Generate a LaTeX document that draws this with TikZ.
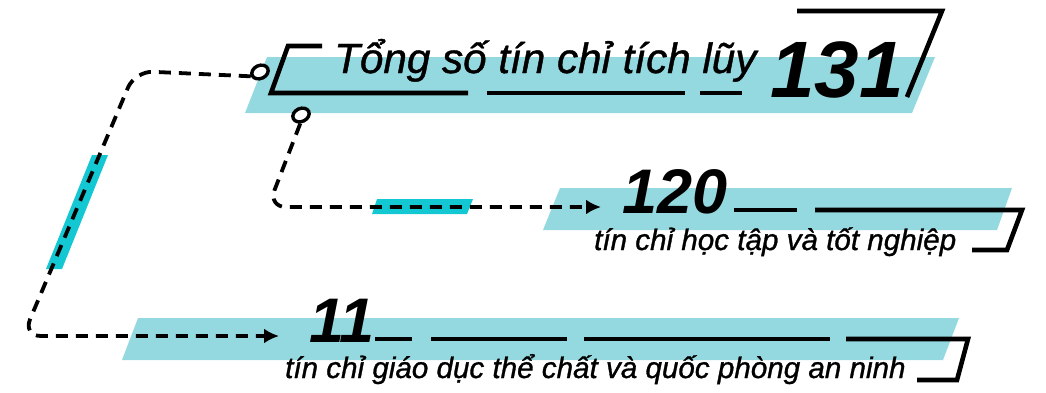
\documentclass[tikz,border=0pt]{standalone}
\usepackage{fontspec}
\setmainfont{Liberation Sans}
\newfontfamily\medfont[FakeBold=1]{Liberation Sans}
\usepackage{tikz}
\usetikzlibrary{arrows.meta,shapes.geometric}
\definecolor{bandteal}{HTML}{95D9E0}
\definecolor{barcyan}{HTML}{14C8D3}
\tikzset{
	band/.style={fill=bandteal, draw=none},
	hibar/.style={fill=barcyan, draw=none},
	frame/.style={draw=black, line width=4.6pt, miter limit=10},
	flow/.style={draw=black, line width=3.8pt, dash pattern=on 12pt off 8pt, rounded corners=18pt, -{Latex[length=15pt,width=15pt]}},
	port/.style={draw=black, ellipse, line width=3.4pt, fill=white, inner sep=0pt, minimum width=17pt, minimum height=13pt, rotate=25},
	titletext/.style={inner sep=0pt, font=\medfont\fontsize{42.2}{42.2}\selectfont\itshape},
	numtext/.style={inner sep=0pt},
	subtext/.style={inner sep=0pt, font=\medfont\fontsize{29.6}{29.6}\selectfont\itshape}
}

\begin{document}
\begin{tikzpicture}[x=1pt,y=-1pt]
	\useasboundingbox (0,0) rectangle (1046,392);
	% bands
	\fill[band] (267,57) -- (935,57) -- (912,113) -- (245,113) -- cycle;
	\fill[band] (560,188) -- (1012,188) -- (997,230) -- (543,230) -- cycle;
	\fill[band] (138,318) -- (959,318) -- (943,360) -- (122,360) -- cycle;
	\fill[hibar] (92,155) -- (108,155) -- (62,269) -- (46,269) -- cycle;
	\fill[hibar] (377,199) -- (473,199) -- (467,214) -- (372,214) -- cycle;
	% frames
	\draw[frame] (322,46) -- (288,46) -- (271,93) -- (468,93);
	\draw[frame] (487,93) -- (685,93);
	\draw[frame] (700,93) -- (742,93);
	\draw[frame] (797,11) -- (942,11) -- (907,97);
	\draw[frame] (734,210) -- (797,210);
	\draw[frame] (815,210) -- (1022,210) -- (1007,250) -- (972,250);
	\draw[frame] (375,339) -- (412,339);
	\draw[frame] (431,339) -- (567,339);
	\draw[frame] (584,339) -- (830,339);
	\draw[frame] (846,339) -- (968,339) -- (957,380) -- (917,380);
	% texts
	\node[titletext, anchor=base west] (title) at (334,73) {Tổng số tín chỉ tích lũy};
	\node[numtext, anchor=base west, font=\fontsize{80}{80}\selectfont\bfseries\itshape] (n131) at (770,97) {131};
	\node[numtext, anchor=base west, font=\fontsize{63}{63}\selectfont\bfseries\itshape] (n120) at (622,213) {120};
	\node[subtext, anchor=base west] (s120) at (594,250) {tín chỉ học tập và tốt nghiệp};
	\node[numtext, anchor=base west, font=\fontsize{63}{63}\selectfont\bfseries\itshape] (n11) at (309,342) {11};
	\node[subtext, anchor=base west] (s11) at (285,378) {tín chỉ giáo dục thể chất và quốc phòng an ninh};
	% ports and connectors
	\node[port] (p1) at (260,72) {};
	\node[port] (p2) at (301,115) {};
	\coordinate (e11) at (279,336);
	\coordinate (e120) at (601,207);
	\draw[flow] (p1.west) -- (135,71) -- (23,336) -- (e11);
	\draw[flow] (p2.240) -- (268,207) -- (e120);
\end{tikzpicture}
\end{document}
